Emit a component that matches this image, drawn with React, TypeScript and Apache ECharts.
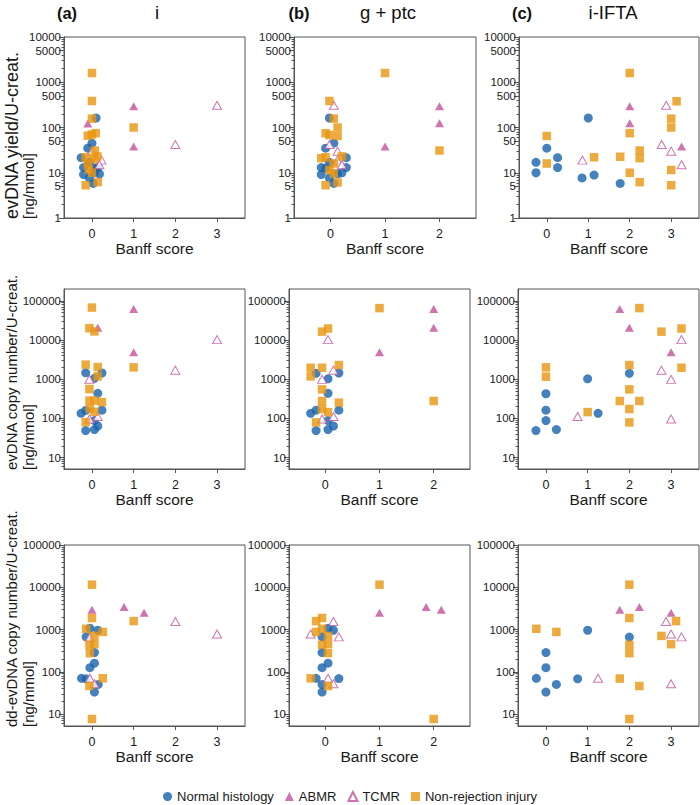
import React, { useEffect, useRef } from "react";
import * as echarts from "echarts";

// ---------- data: [jittered Banff score, value] ----------
// Row 1: evDNA yield / U-creat. [ng/mmol]
const yieldI_Normal = [[0.1, 162], [0, 45], [-0.1, 35], [-0.26, 21.5], [-0.06, 17], [-0.2, 13], [0.08, 12.7], [0.14, 13], [0.06, 10], [0.18, 9.4], [-0.2, 9.1], [-0.06, 7.7], [0.03, 5.8]];
const yieldI_ABMR = [[-0.1, 122], [1, 294], [1, 38]];
const yieldI_TCMR = [[0, 30], [0.23, 19], [0.18, 15], [2, 42], [3, 310]];
const yieldI_NRI = [[0, 1600], [0, 385], [0, 157], [-0.1, 66], [0, 70], [0.09, 75], [1, 100], [0.07, 31], [-0.15, 22], [0.13, 23], [-0.1, 16], [0.05, 20], [-0.08, 12], [0, 10], [0.14, 6.2], [-0.15, 5.3]];

const yieldG_Normal = [[-0.02, 162], [0.06, 45], [-0.09, 35], [-0.02, 17], [0.29, 21.5], [-0.17, 13], [-0.09, 12.7], [0.29, 13], [-0.17, 9.1], [-0.02, 7.7], [0.13, 9.5], [0.21, 10], [0.06, 5.8]];
const yieldG_ABMR = [[1, 38], [2, 294], [2, 124]];
const yieldG_TCMR = [[0.06, 310], [-0.02, 42], [0.13, 30], [0.13, 19], [0.21, 15]];
const yieldG_NRI = [[-0.02, 385], [1, 1600], [0.06, 157], [0.13, 100], [-0.09, 75], [-0.02, 68], [0.13, 65], [-0.17, 21], [-0.09, 22], [0.21, 23], [0.06, 16], [-0.02, 11.5], [0.06, 9.7], [0.13, 6.1], [-0.09, 5.3], [2, 31]];

const yieldF_Normal = [[-0.26, 17], [-0.26, 10], [0, 35], [0.26, 21.5], [0.26, 13], [1, 162], [0.85, 7.7], [1.14, 8.9], [1.77, 5.8]];
const yieldF_ABMR = [[2, 294], [2, 124], [3.25, 38]];
const yieldF_TCMR = [[0.86, 19], [2.88, 310], [2.77, 42], [3, 30], [3.25, 15]];
const yieldF_NRI = [[0, 65], [0, 16], [1.14, 22], [2, 1600], [2, 75], [1.77, 22.6], [2, 10], [2.24, 31], [2.24, 21], [2.24, 6.2], [3.13, 380], [3, 157], [3, 100], [3, 11.5], [3, 5.3]];

// Row 2: evDNA copy number / U-creat.
const copyI_Normal = [[-0.15, 1450], [0.24, 1440], [0.06, 1050], [0.14, 435], [-0.26, 135], [-0.15, 160], [0.24, 162], [0.06, 88], [0.14, 64], [0.06, 52], [-0.15, 49]];
const copyI_ABMR = [[1, 62000], [0.14, 20500], [1, 4900]];
const copyI_TCMR = [[3, 10200], [2, 1700], [-0.06, 1000], [0.14, 112], [-0.06, 97]];
const copyI_NRI = [[0, 67000], [-0.06, 20000], [0.06, 16500], [-0.15, 2350], [0.14, 2040], [0.14, 1180], [1, 2000], [-0.06, 560], [-0.06, 285], [0.06, 285], [0.24, 260], [-0.05, 178], [0.06, 148], [-0.15, 80]];

const copyG_Normal = [[-0.17, 1410], [0.25, 1440], [0.05, 1020], [0.05, 435], [-0.27, 135], [-0.17, 162], [0.25, 162], [0.05, 88], [0.15, 64], [0.05, 52], [-0.17, 49]];
const copyG_ABMR = [[1, 4900], [2, 62000], [2, 20500]];
const copyG_TCMR = [[0.05, 10200], [0.15, 1700], [-0.06, 990], [0.15, 112], [-0.06, 97]];
const copyG_NRI = [[-0.06, 16300], [0.05, 19600], [1, 65000], [-0.27, 1960], [-0.06, 1960], [-0.27, 1180], [0.25, 2290], [-0.06, 550], [-0.06, 278], [0.25, 252], [-0.06, 174], [0.05, 145], [-0.17, 79], [2, 278]];

const copyF_Normal = [[-0.24, 49], [0, 426], [0, 162], [0, 88], [0.25, 52], [1, 1020], [1.25, 135], [2, 1410]];
const copyF_ABMR = [[1.77, 62000], [2, 20500], [3, 4900]];
const copyF_TCMR = [[0.76, 112], [3.25, 10200], [2.77, 1700], [3, 990], [3, 97]];
const copyF_NRI = [[0, 2000], [0, 1160], [1, 145], [2.24, 65000], [2, 2290], [2, 550], [1.77, 278], [2.24, 278], [2, 174], [2, 79], [2.77, 16300], [3.25, 19600], [3.25, 1960]];

// Row 3: dd-evDNA copy number / U-creat.
const ddI_Normal = [[-0.05, 1070], [-0.14, 670], [0.14, 960], [0.06, 285], [0.06, 160], [-0.05, 125], [-0.25, 70], [-0.14, 68], [0.15, 50], [0.06, 33]];
const ddI_ABMR = [[0, 2950], [0.77, 3400], [1.25, 2500]];
const ddI_TCMR = [[-0.05, 660], [-0.05, 70], [0.06, 52], [2, 1550], [3, 780]];
const ddI_NRI = [[0, 11500], [0, 1870], [-0.14, 1040], [0.06, 705], [0.26, 875], [-0.06, 435], [0.06, 450], [-0.05, 275], [0.26, 70], [-0.06, 46], [0, 7.6], [1, 1580]];

const ddG_Normal = [[0.05, 1070], [0.15, 960], [-0.06, 670], [-0.06, 285], [0.05, 160], [-0.06, 125], [-0.17, 70], [0.25, 69], [-0.06, 50], [-0.06, 33]];
const ddG_ABMR = [[1, 2500], [1.86, 3400], [2.14, 2950]];
const ddG_TCMR = [[-0.27, 780], [0.15, 1550], [0.25, 670], [0.05, 70], [0.15, 52]];
const ddG_NRI = [[1, 11500], [-0.06, 1870], [-0.17, 1580], [-0.06, 1040], [-0.17, 875], [0.05, 705], [-0.06, 435], [0.05, 450], [0.05, 275], [-0.27, 70], [0.05, 46], [2, 7.6]];

const ddF_Normal = [[-0.23, 70], [0, 285], [0, 125], [0, 33], [0.25, 50], [0.76, 68], [1, 960], [2, 660]];
const ddF_ABMR = [[1.77, 2950], [2.24, 3400], [3, 2500]];
const ddF_TCMR = [[1.25, 70], [2.88, 1550], [3, 780], [3.25, 670], [3, 52]];
const ddF_NRI = [[-0.23, 1040], [0.25, 875], [2, 11500], [2, 1870], [2, 435], [2, 275], [1.77, 69], [2.24, 46], [2, 7.6], [2.77, 705], [3.12, 1580], [3, 450]];

// ---------- labels ----------
const groupNames = ["Normal histology", "ABMR", "TCMR", "Non-rejection injury"];
const panelLetters = ["(a)", "(b)", "(c)"];
const panelTitles = ["i", "g + ptc", "i-IFTA"];
const xTicksA = [0, 1, 2, 3];
const xTicksB = [0, 1, 2];
const xAxisTitle = "Banff score";
const yTicksRow1 = [1, 5, 10, 50, 100, 500, 1000, 5000, 10000];
const yTicksRow23 = [10, 100, 1000, 10000, 100000];
const yTitles = ["evDNA yield/U-creat.", "evDNA copy number/U-creat.", "dd-evDNA copy number/U-creat."];
const yUnit = "[ng/mmol]";

const panelData = [
  [yieldI_Normal, yieldI_ABMR, yieldI_TCMR, yieldI_NRI],
  [yieldG_Normal, yieldG_ABMR, yieldG_TCMR, yieldG_NRI],
  [yieldF_Normal, yieldF_ABMR, yieldF_TCMR, yieldF_NRI],
  [copyI_Normal, copyI_ABMR, copyI_TCMR, copyI_NRI],
  [copyG_Normal, copyG_ABMR, copyG_TCMR, copyG_NRI],
  [copyF_Normal, copyF_ABMR, copyF_TCMR, copyF_NRI],
  [ddI_Normal, ddI_ABMR, ddI_TCMR, ddI_NRI],
  [ddG_Normal, ddG_ABMR, ddG_TCMR, ddG_NRI],
  [ddF_Normal, ddF_ABMR, ddF_TCMR, ddF_NRI],
];

const FONT = '"Liberation Sans", Arial, Helvetica, sans-serif';
const BLUE = "#1763AC";
const MAG = "#C2519B";
const ORANGE = "#E8950F";
const AXIS = "#555555";
const TXT = "#1a1a1a";

function buildOption() {
  const rows = [
    { top: 37, height: 181, min: 0, max: 4, ticks: yTicksRow1 },
    { top: 289, height: 180, min: 0.71, max: 5.3, ticks: yTicksRow23 },
    { top: 545, height: 181, min: 0.716, max: 5, ticks: yTicksRow23 },
  ];
  const grids: any[] = [];
  const xAxes: any[] = [];
  const yAxes: any[] = [];
  const series: any[] = [];
  const graphics: any[] = [];

  rows.forEach((row, r) => {
    const cols = [
      { left: 64, width: 181, xmax: 3.67, ticks: xTicksA },
      { left: r === 0 ? 294 : 289, width: r === 0 ? 182 : 181, xmax: 2.67, ticks: xTicksB },
      { left: r === 0 ? 519 : 518, width: r === 0 ? 180 : 181, xmax: 3.67, ticks: xTicksA },
    ];
    const majorLog = row.ticks.map((v) => Math.log10(v));
    const minorLog: number[] = [];
    for (let d = Math.floor(row.min); d < Math.ceil(row.max); d++) {
      for (let k = 2; k <= 9; k++) {
        const v = Math.log10(k) + d;
        if (v > row.min && v < row.max && !majorLog.some((m) => Math.abs(m - v) < 1e-6)) minorLog.push(v);
      }
    }
    cols.forEach((col, c) => {
      const p = r * 3 + c;
      grids.push({
        left: col.left, top: row.top, width: col.width, height: row.height,
        show: true, borderColor: AXIS, borderWidth: 1, backgroundColor: "transparent",
      });
      xAxes.push({
        gridIndex: p, type: "value", min: -0.67, max: col.xmax, position: "bottom",
        axisLine: { show: true, onZero: false, lineStyle: { color: AXIS, width: 1 } },
        axisTick: { show: true, customValues: col.ticks, length: 4, lineStyle: { color: AXIS } },
        axisLabel: { customValues: col.ticks, margin: 9, fontSize: 12.5, color: TXT, fontFamily: FONT },
        splitLine: { show: false },
        name: xAxisTitle, nameLocation: "middle", nameGap: 22,
        nameTextStyle: { fontSize: 15.5, color: TXT, fontFamily: FONT },
      });
      yAxes.push({
        gridIndex: p, type: "value", min: row.min, max: row.max, position: "left",
        axisLine: { show: true, onZero: false, lineStyle: { color: AXIS, width: 1 } },
        axisTick: { show: true, customValues: majorLog, length: 5, lineStyle: { color: AXIS } },
        axisLabel: {
          customValues: majorLog, margin: 3, fontSize: 11.5, color: TXT, fontFamily: FONT,
          formatter: (v: number) => String(Math.round(Math.pow(10, v))),
        },
        splitLine: { show: false },
      });
      yAxes.push({
        gridIndex: p, type: "value", min: row.min, max: row.max, position: "left",
        axisLine: { show: false, onZero: false },
        axisTick: { show: true, customValues: minorLog, length: 2.5, lineStyle: { color: AXIS } },
        axisLabel: { show: false },
        splitLine: { show: false },
      });
      const sets = panelData[p];
      const styles = [
        { symbol: "circle", symbolSize: 9, itemStyle: { color: BLUE } },
        { symbol: "triangle", symbolSize: [9, 8], itemStyle: { color: MAG } },
        { symbol: "triangle", symbolSize: [9, 8], itemStyle: { color: "#ffffff", borderColor: MAG, borderWidth: 1 } },
        { symbol: "rect", symbolSize: 8.5, itemStyle: { color: ORANGE } },
      ];
      sets.forEach((set, g) => {
        series.push({
          type: "scatter", name: groupNames[g], xAxisIndex: p, yAxisIndex: 2 * p,
          data: set.map(([x, y]) => [x, Math.log10(y)]),
          ...styles[g],
          emphasis: { disabled: true },
        });
      });
      if (r === 0) {
        graphics.push({
          type: "text", x: [67, 299, 522][c], y: 13,
          style: { text: panelLetters[c], fontSize: 16.5, fontWeight: "bold", fontFamily: FONT, fill: "#111", align: "center", verticalAlign: "middle" },
        });
        graphics.push({
          type: "text", x: [157, 388, 613][c], y: 12,
          style: { text: panelTitles[c], fontSize: 18.5, fontFamily: FONT, fill: "#111", align: "center", verticalAlign: "middle" },
        });
      }
    });
    const bottom = row.top + row.height;
    graphics.push({
      type: "text", x: r === 0 ? 3 : 4, y: bottom + 1, rotation: Math.PI / 2,
      style: { text: yTitles[r], fontSize: r === 0 ? 18 : 15, fontFamily: FONT, fill: TXT, align: "left", verticalAlign: "top" },
    });
    graphics.push({
      type: "text", x: 21, y: bottom + 1, rotation: Math.PI / 2,
      style: { text: yUnit, fontSize: 15, fontFamily: FONT, fill: TXT, align: "left", verticalAlign: "top" },
    });
  });

  return {
    animation: false,
    backgroundColor: "#ffffff",
    grid: grids,
    xAxis: xAxes,
    yAxis: yAxes,
    series,
    graphic: graphics,
    legend: {
      data: [
        { name: groupNames[0], icon: "circle" },
        { name: groupNames[1], icon: "triangle" },
        { name: groupNames[2], icon: "triangle" },
        { name: groupNames[3], icon: "rect" },
      ],
      left: "center", top: 785, itemWidth: 9, itemHeight: 9, itemGap: 11,
      selectedMode: false,
      textStyle: { fontSize: 13, color: TXT, fontFamily: FONT },
    },
  };
}

export default function App() {
  const ref = useRef<HTMLDivElement>(null);
  useEffect(() => {
    if (!ref.current) return;
    const chart = echarts.init(ref.current, null, { renderer: "svg" });
    chart.setOption(buildOption() as any);
    return () => chart.dispose();
  }, []);
  return <div ref={ref} style={{ position: "absolute", left: 0, top: 0, width: 700, height: 805 }} />;
}
